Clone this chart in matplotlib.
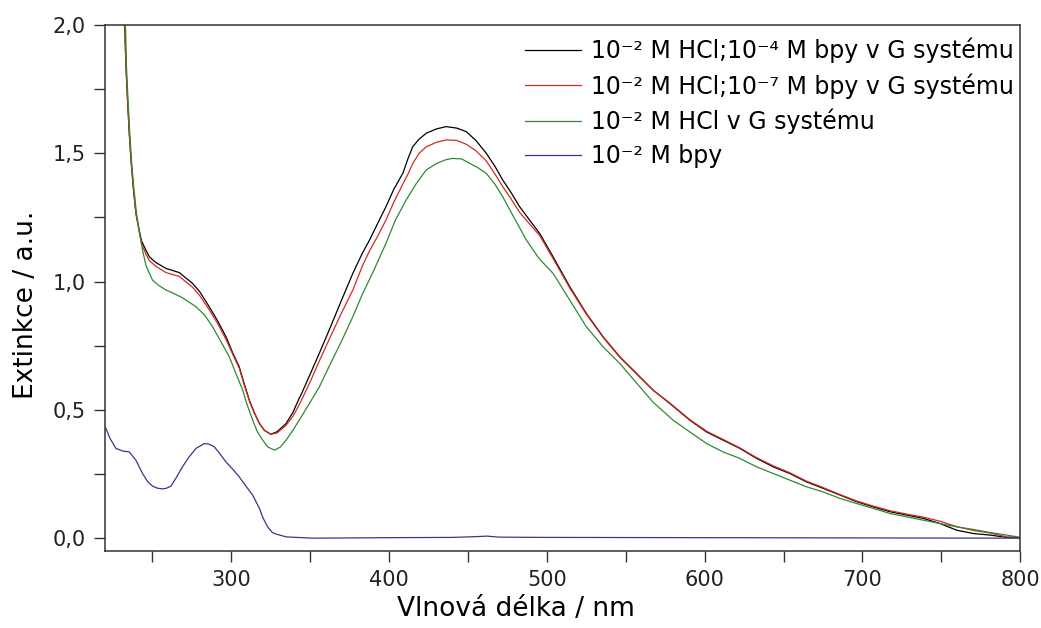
import numpy as np
import matplotlib.pyplot as plt
from matplotlib.ticker import MultipleLocator, FuncFormatter

plt.rcParams['font.family'] = ['DejaVu Sans']

# vlnova delka (nm) a extinkce
wl_a = [231.5, 232.5, 233.2, 234.2, 235.3, 236.4, 237.8, 239.5, 241.6, 243, 246, 248, 252, 258.6,
        263, 267, 271, 275.4, 280, 286, 291, 296.6, 301, 305, 308, 311.4, 314.5, 317.8, 321,
        325, 329, 334.7, 339, 343, 345, 350, 355, 362, 370, 377, 383, 387.6, 393, 398, 403,
        408.7, 412, 415, 419, 423.5, 430, 436.2, 443, 449, 455, 461.6, 467, 472, 477, 482.7,
        489, 495.4, 503.9, 514.5, 525, 535.6, 546.2, 556.8, 567.3, 577.9, 590.6, 601.2, 611.7,
        622.3, 632.9, 643.5, 654, 664.7, 675.2, 685.8, 696.4, 706.9, 717.5, 728, 738.7, 749.2,
        759.8, 770.4, 781, 791.6, 800]
ext_hcl_bpy4 = [2.05, 1.98, 1.838, 1.708, 1.578, 1.474, 1.37, 1.266, 1.2, 1.16, 1.12, 1.097,
                1.075, 1.051, 1.043, 1.035, 1.015, 0.993, 0.96, 0.902, 0.85, 0.785, 0.72, 0.668,
                0.605, 0.538, 0.49, 0.447, 0.42, 0.405, 0.415, 0.447, 0.49, 0.545, 0.57, 0.64,
                0.71, 0.811, 0.93, 1.032, 1.11, 1.162, 1.23, 1.292, 1.36, 1.422, 1.48, 1.526,
                1.555, 1.578, 1.595, 1.604, 1.598, 1.584, 1.55, 1.5, 1.45, 1.396, 1.35, 1.292,
                1.24, 1.188, 1.097, 0.98, 0.876, 0.785, 0.707, 0.642, 0.577, 0.525, 0.46, 0.414,
                0.382, 0.35, 0.311, 0.278, 0.252, 0.219, 0.194, 0.168, 0.142, 0.122, 0.103,
                0.09, 0.077, 0.057, 0.031, 0.018, 0.012, 0.003, 0.002]
ext_hcl_bpy7 = [2.05, 1.98, 1.838, 1.708, 1.578, 1.474, 1.37, 1.266, 1.195, 1.15, 1.105, 1.082,
                1.06, 1.035, 1.027, 1.02, 1.0, 0.978, 0.945, 0.89, 0.84, 0.775, 0.715, 0.662,
                0.6, 0.535, 0.488, 0.447, 0.42, 0.405, 0.41, 0.44, 0.475, 0.52, 0.545, 0.61,
                0.68, 0.775, 0.88, 0.967, 1.06, 1.12, 1.18, 1.24, 1.31, 1.38, 1.42, 1.46, 1.5,
                1.525, 1.543, 1.552, 1.55, 1.535, 1.51, 1.47, 1.42, 1.37, 1.325, 1.27, 1.225,
                1.18, 1.09, 0.975, 0.873, 0.783, 0.705, 0.64, 0.577, 0.527, 0.462, 0.417, 0.385,
                0.352, 0.314, 0.282, 0.255, 0.222, 0.197, 0.17, 0.145, 0.125, 0.107, 0.094,
                0.082, 0.066, 0.045, 0.03, 0.02, 0.005, 0.003]

wl_g = [232, 233, 233.5, 234.5, 235.6, 236.7, 238.1, 239.8, 241.5, 243.7, 246, 250, 254, 258.6,
        263, 269, 277.6, 283, 288.1, 293, 298.7, 303, 307.2, 310, 313.5, 316.5, 319.9, 323,
        327.3, 331, 334.7, 339, 343, 349, 355.8, 362, 370, 377, 383, 390, 398, 404, 410.8,
        417, 423.5, 430, 436, 440, 446, 451, 456, 461.6, 467, 472, 480, 487, 495, 503.9,
        514.5, 525, 535.6, 546.2, 556.8, 567.3, 580, 590.6, 601.2, 611.7, 622.3, 632.9, 643.5,
        654, 664.7, 675.2, 685.8, 696.4, 706.9, 717.5, 728, 738.7, 749.2, 759.8, 770.4, 781,
        791.6, 800]
ext_hcl = [2.05, 1.98, 1.84, 1.71, 1.58, 1.47, 1.37, 1.27, 1.2, 1.123, 1.06, 1.006, 0.985,
           0.967, 0.955, 0.937, 0.902, 0.87, 0.824, 0.77, 0.707, 0.64, 0.577, 0.52, 0.46, 0.415,
           0.382, 0.356, 0.343, 0.355, 0.382, 0.42, 0.46, 0.52, 0.59, 0.67, 0.77, 0.863, 0.95,
           1.04, 1.149, 1.24, 1.318, 1.38, 1.435, 1.46, 1.475, 1.48, 1.478, 1.461, 1.445, 1.422,
           1.38, 1.331, 1.24, 1.162, 1.09, 1.032, 0.928, 0.824, 0.746, 0.681, 0.605, 0.53, 0.46,
           0.414, 0.369, 0.336, 0.311, 0.278, 0.252, 0.226, 0.2, 0.18, 0.155, 0.135, 0.116,
           0.096, 0.083, 0.07, 0.057, 0.044, 0.034, 0.022, 0.012, 0.003]

wl_b = [220.5, 223, 226.8, 231, 235.3, 239.5, 243.7, 247, 250, 253, 256.4, 259, 261.7, 265,
        269, 273, 277.6, 283, 286, 289.2, 292, 296.6, 301, 305, 309, 313.5, 317.8, 320, 323,
        326, 328.4, 334.7, 351.6, 400, 440, 455, 462, 470, 500, 600, 700, 800]
ext_bpy = [0.428, 0.39, 0.35, 0.34, 0.336, 0.304, 0.252, 0.22, 0.203, 0.195, 0.192, 0.195,
           0.203, 0.235, 0.278, 0.315, 0.35, 0.369, 0.366, 0.356, 0.335, 0.297, 0.268, 0.239,
           0.205, 0.168, 0.116, 0.08, 0.044, 0.022, 0.016, 0.005, 0.0, 0.002, 0.003, 0.006,
           0.008, 0.004, 0.003, 0.002, 0.001, 0.0]

labels = ['10⁻² M HCl;10⁻⁴ M bpy v G systému',
          '10⁻² M HCl;10⁻⁷ M bpy v G systému',
          '10⁻² M HCl v G systému',
          '10⁻² M bpy']
colors = ['black', '#d42a24', '#2f8a2f', '#36368f']

fig = plt.figure(figsize=(10.41, 6.28), dpi=100)
ax = fig.add_axes([0.101, 0.1226, 0.879, 0.8376])

ax.plot(wl_a, ext_hcl_bpy4, color=colors[0], lw=0.9, label=labels[0])
ax.plot(wl_a, ext_hcl_bpy7, color=colors[1], lw=0.9, label=labels[1])
ax.plot(wl_g, ext_hcl, color=colors[2], lw=0.9, label=labels[2])
ax.plot(wl_b, ext_bpy, color=colors[3], lw=0.9, label=labels[3])

ax.set_xlim(220, 800)
ax.set_ylim(-0.05, 2.0)
ax.xaxis.set_major_locator(MultipleLocator(100))
ax.xaxis.set_minor_locator(MultipleLocator(50))
ax.yaxis.set_major_locator(MultipleLocator(0.5))
ax.yaxis.set_minor_locator(MultipleLocator(0.25))
ax.yaxis.set_major_formatter(FuncFormatter(lambda v, p: ('%.1f' % v).replace('.', ',')))
ax.tick_params(which='both', direction='out', length=8, width=1, color='#333333',
               labelsize=15, labelcolor='#222222', pad=6)
for s in ax.spines.values():
    s.set_color('#333333')
    s.set_linewidth(1.1)

ax.set_xlabel('Vlnová délka / nm', fontsize=19, labelpad=4)
ax.set_ylabel('Extinkce / a.u.', fontsize=19, labelpad=10)
ax.xaxis.label.set_x(0.449)
ax.yaxis.label.set_y(0.468)

leg = ax.legend(loc='upper right', bbox_to_anchor=(1.002, 0.992), borderaxespad=0,
                fontsize=17, frameon=False, handlelength=2.4, labelspacing=0.43,
                handletextpad=0.4, borderpad=0.35)

fig.savefig('out.png', dpi=100)
